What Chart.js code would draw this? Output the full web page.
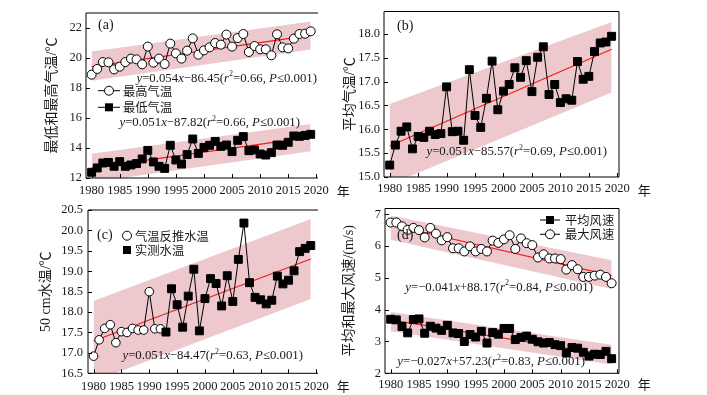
<!DOCTYPE html>
<html>
<head>
<meta charset="utf-8">
<script src="https://cdn.jsdelivr.net/npm/chart.js@4.4.0/dist/chart.umd.min.js"></script>
<style>
body{margin:0;background:#fff;width:707px;height:395px;position:relative;overflow:hidden}
canvas{position:absolute}
</style>
</head>
<body>
<canvas id="ca" width="350" height="197" style="left:0;top:0"></canvas>
<canvas id="cb" width="377" height="197" style="left:330px;top:0"></canvas>
<canvas id="cc" width="350" height="198" style="left:0;top:197px"></canvas>
<canvas id="cd" width="377" height="198" style="left:330px;top:197px"></canvas>
<script>
// values
const years=[1980,1981,1982,1983,1984,1985,1986,1987,1988,1989,
1990,1991,1992,1993,1994,1995,1996,1997,1998,1999,
2000,2001,2002,2003,2004,2005,2006,2007,2008,2009,
2010,2011,2012,2013,2014,2015,2016,2017,2018,2019];
const yearTicks=[1980,1985,1990,1995,2000,2005,2010,2015,2020];

const tMax=[18.89,19.27,19.73,19.71,19.24,19.42,19.73,19.96,19.91,19.58,
20.76,19.69,19.96,19.6,20.96,20.31,19.96,20.49,21.31,20.22,
20.51,20.71,21.0,20.89,21.56,20.76,21.33,21.6,20.4,20.8,
20.58,20.58,20.18,21.58,20.71,20.64,21.29,21.6,21.62,21.78];
const tMin=[12.38,12.67,13.0,13.04,12.78,13.09,12.78,12.87,12.96,13.27,
13.84,13.07,12.78,12.64,14.18,13.2,12.93,13.56,14.6,13.64,
14.04,14.18,14.44,14.11,14.2,13.76,14.51,14.76,13.82,13.87,
13.6,13.53,13.69,14.2,14.18,14.38,14.8,14.78,14.84,14.91];
const tMean=[15.25,15.67,15.96,16.05,15.59,15.85,15.83,15.96,15.89,15.91,
16.89,15.95,15.96,15.77,17.25,16.29,16.04,16.65,17.43,16.41,
16.8,16.94,17.29,17.09,17.44,16.79,17.51,17.73,16.73,16.94,
16.56,16.64,16.61,17.42,17.05,17.11,17.63,17.81,17.83,17.95];
const water=[16.92,17.32,17.6,17.69,17.25,17.52,17.5,17.6,17.56,17.56,
18.5,17.59,17.59,17.51,18.57,18.18,17.63,18.39,19.05,17.54,
18.33,18.82,18.7,18.15,18.89,18.26,19.29,20.18,18.72,18.36,
18.3,18.2,18.29,18.88,18.69,18.78,19.01,19.48,19.56,19.63];
const waterEstLast=1992; // up to this year water temp is back-calculated
const windMax=[6.74,6.74,6.62,6.51,6.57,6.5,6.27,6.57,6.39,6.18,
6.28,5.93,5.93,5.83,5.99,5.83,5.91,5.83,6.17,6.1,
6.21,6.34,5.91,6.24,6.09,6.03,5.64,5.74,5.61,5.61,
5.59,5.26,5.4,5.27,5.03,5.03,5.07,5.1,5.03,4.83];
const windMean=[3.7,3.68,3.47,3.27,3.69,3.71,3.26,3.48,3.42,3.35,
3.51,3.27,3.25,3.0,3.22,3.14,3.32,2.95,3.28,3.23,
3.41,3.41,3.06,3.13,3.17,3.07,2.99,2.95,2.97,2.9,
2.87,2.64,2.81,2.79,2.66,2.54,2.6,2.59,2.69,2.46];

// fitted lines and bands: end points at 1980 and 2019
const ends=[1980,2019];
const fitMax=[19.42,21.51], bandMaxHi=[20.44,22.44], bandMaxLo=[18.49,20.56];
const fitMin=[12.67,14.73], bandMinHi=[13.62,15.6], bandMinLo=[11.72,13.78];
const fitMean=[15.65,17.68], bandMeanHi=[16.53,18.25], bandMeanLo=[14.84,16.77];
const fitWater=[17.29,19.3], bandWaterHi=[18.27,20.28], bandWaterLo=[16.3,18.32];
const fitWMax=[6.67,5.07], bandWMaxHi=[6.96,5.55], bandWMaxLo=[6.2,4.65];
const fitWMean=[3.68,2.56], bandWMeanHi=[3.93,2.9], bandWMeanLo=[3.32,2.28];

const ticksA=[12,14,16,18,20,22];
const ticksB=[15,15.5,16,16.5,17,17.5,18];
const ticksC=[16.5,17,17.5,18,18.5,19,19.5,20,20.5];
const ticksD=[2,3,4,5,6,7];

const SERIF='"Liberation Serif","Times New Roman",serif';
const MIX='"Liberation Serif","Noto Sans CJK SC",serif';
const CJK='"Noto Sans CJK SC",sans-serif';
const PINK='#edc9ce';
const RED='#f01e1e';
const INK='#1a1a1a';

function xy(xs,ys){return xs.map((x,i)=>({x:x,y:ys[i]}));}
function eq(slope,icpt,r2){
  return [['y','i'],['='+slope,'n'],['x','i'],[icpt+'(','n'],['r','i'],['2','s'],['='+r2+', ','n'],['P','i'],['\u22640.001)','n']];
}

function drawEq(ctx,parts,right,cy,size){
  const f={n:size+'px '+SERIF,i:'italic '+size+'px '+SERIF,s:Math.round(size*0.65)+'px '+SERIF};
  let w=0;
  parts.forEach(p=>{ctx.font=f[p[1]];w+=ctx.measureText(p[0]).width;});
  let x=right-w;
  ctx.textAlign='left';ctx.textBaseline='middle';ctx.fillStyle=INK;
  parts.forEach(p=>{
    ctx.font=f[p[1]];
    ctx.fillText(p[0],x,p[1]==='s'?cy-size*0.33:cy);
    x+=ctx.measureText(p[0]).width;
  });
}
function marker(ctx,style,x,y){
  ctx.beginPath();
  if(style==='circle'){ctx.arc(x,y,4.5,0,Math.PI*2);ctx.fillStyle='#fff';ctx.fill();ctx.stroke();}
  else{ctx.fillStyle='#000';ctx.fillRect(x-4,y-4,8,8);}
}

const deco={
  id:'deco',
  afterDraw(chart,args,o){
    const ctx=chart.ctx,a=chart.chartArea,xs=chart.scales.x,ys=chart.scales.y;
    const ox=o.ox,oy=o.oy;
    ctx.save();
    ctx.strokeStyle='#000';ctx.lineWidth=1;
    ctx.beginPath();
    ctx.moveTo(a.left,a.top);ctx.lineTo(a.left,a.bottom);ctx.lineTo(a.right,a.bottom);
    ctx.moveTo(a.left,a.top);ctx.lineTo(a.right,a.top);
    if(o.box){ctx.lineTo(a.right,a.bottom);}
    xs.ticks.forEach(t=>{const p=Math.round(xs.getPixelForValue(t.value))+0.5;ctx.moveTo(p,a.bottom);ctx.lineTo(p,a.bottom-4);});
    ys.ticks.forEach(t=>{const p=Math.round(ys.getPixelForValue(t.value))+0.5;ctx.moveTo(a.left,p);ctx.lineTo(a.left+4,p);});
    ctx.stroke();
    // year unit
    ctx.fillStyle=INK;ctx.font='13px '+CJK;ctx.textAlign='center';ctx.textBaseline='middle';
    ctx.fillText('\u5e74',xs.getPixelForValue(2020)+27,o.yearY-oy);
    // panel label
    ctx.font='14px '+SERIF;ctx.textAlign='left';
    ctx.fillText(o.label[0],o.label[1]-ox,o.label[2]-oy);
    (o.eqs||[]).forEach(e=>drawEq(ctx,e.parts,e.right-ox,e.y-oy,12.8));
    (o.legend||[]).forEach(l=>{
      ctx.strokeStyle='#000';ctx.lineWidth=1;
      if(l.x1!=null){ctx.beginPath();ctx.moveTo(l.x1-ox,l.y-oy);ctx.lineTo(l.x2-ox,l.y-oy);ctx.stroke();}
      marker(ctx,l.style,l.mx-ox,l.y-oy);
      ctx.fillStyle=INK;ctx.font='12.3px '+CJK;ctx.textAlign='left';ctx.textBaseline='middle';
      ctx.fillText(l.text,l.tx-ox,l.y-oy+0.5);
    });
    ctx.restore();
  }
};

function panel(id,c){
  const ds=[];
  c.series.forEach(s=>ds.push(Object.assign({data:xy(years,s.values),borderColor:'#000',borderWidth:1,
    pointBorderColor:'#000',pointBorderWidth:1,order:1},s.look)));
  c.fits.forEach(f=>ds.push({data:xy(ends,f),borderColor:RED,borderWidth:1.2,pointRadius:0,order:2}));
  c.bands.forEach(b=>{
    ds.push({data:xy(ends,b[0]),borderColor:'transparent',borderWidth:0,pointRadius:0,fill:'+1',backgroundColor:PINK,order:3});
    ds.push({data:xy(ends,b[1]),borderColor:'transparent',borderWidth:0,pointRadius:0,fill:false,order:3});
  });
  return new Chart(document.getElementById(id),{
    type:'line',
    data:{datasets:ds},
    options:{
      responsive:false,animation:false,
      layout:{padding:{top:c.pt,right:c.pr,left:0,bottom:0}},
      plugins:{legend:{display:false},tooltip:{enabled:false},deco:c.deco},
      scales:{
        x:{type:'linear',min:1979,max:2020.3,
          grid:{display:false,drawTicks:false},border:{display:false},
          afterBuildTicks:s=>{s.ticks=yearTicks.map(v=>({value:v}));},
          afterFit:s=>{s.height=c.xh;},
          ticks:{font:{family:SERIF,size:12.5},color:INK,padding:c.xpad,maxRotation:0,autoSkip:false,callback:v=>String(v)}},
        y:{type:'linear',min:c.ymin,max:c.ymax,
          grid:{display:false,drawTicks:false},border:{display:false},
          afterBuildTicks:s=>{s.ticks=c.yticks.map(v=>({value:v}));},
          afterFit:s=>{s.width=c.yw;},
          ticks:{font:{family:SERIF,size:12.5},color:INK,padding:c.ypad,autoSkip:false,callback:v=>v.toFixed(c.dec)},
          title:{display:true,text:c.ytitle,color:INK,font:{family:MIX,size:14},padding:{top:c.tpad,bottom:0}}}
      }
    },
    plugins:[deco]
  });
}

const openPt={pointStyle:'circle',pointRadius:4.5,pointBackgroundColor:'#fff'};
const fillPt={pointStyle:'rect',pointRadius:5.6,pointBackgroundColor:'#000'};

panel('ca',{
  series:[{values:tMax,look:openPt},{values:tMin,look:fillPt}],
  fits:[fitMax,fitMin],bands:[[bandMaxHi,bandMaxLo],[bandMinHi,bandMinLo]],
  ymin:12,ymax:23,yticks:ticksA,dec:0,ytitle:'\u6700\u4f4e\u548c\u6700\u9ad8\u6c14\u6e29/\u2103',
  pt:13,pr:32,yw:86,xh:19,xpad:5.5,ypad:4,tpad:44,
  deco:{ox:0,oy:0,box:false,yearY:191.5,label:['(a)',98,25],
    eqs:[{parts:eq('0.054','\u221286.45','0.66'),right:317,y:78.3},{parts:eq('0.051','\u221287.82','0.66'),right:300,y:122.7}],
    legend:[{x1:98,x2:120,mx:109,tx:123,y:90.7,style:'circle',text:'\u6700\u9ad8\u6c14\u6e29'},
            {x1:98,x2:120,mx:109,tx:123,y:107.3,style:'rect',text:'\u6700\u4f4e\u6c14\u6e29'}]}
});

panel('cb',{
  series:[{values:tMean,look:fillPt}],
  fits:[fitMean],bands:[[bandMeanHi,bandMeanLo]],
  ymin:15,ymax:18.47,yticks:ticksB,dec:1,ytitle:'\u5e73\u5747\u6c14\u6e29/\u2103',
  pt:3,pr:88,yw:54,xh:20,xpad:4.5,ypad:4,tpad:12,
  deco:{ox:330,oy:0,box:true,yearY:190,label:['(b)',397,26],
    eqs:[{parts:eq('0.051','\u221285.57','0.69'),right:607,y:151.7}]}
});

panel('cc',{
  series:[{values:water,look:{
    pointStyle:c=>c.raw.x<=waterEstLast?'circle':'rect',
    pointRadius:c=>c.raw.x<=waterEstLast?4.3:5.6,
    pointBackgroundColor:c=>c.raw.x<=waterEstLast?'#fff':'#000'}}],
  fits:[fitWater],bands:[[bandWaterHi,bandWaterLo]],
  ymin:16.5,ymax:20.5,yticks:ticksC,dec:1,ytitle:'50 cm\u6c34\u6e29/\u2103',
  pt:13,pr:32,yw:88,xh:21.7,xpad:6,ypad:5,tpad:38,
  deco:{ox:0,oy:197,box:false,yearY:386.5,label:['(c)',97,235.5],
    eqs:[{parts:eq('0.051','\u221284.47','0.63'),right:303,y:356}],
    legend:[{mx:127,tx:135,y:235.7,style:'circle',text:'\u6c14\u6e29\u53cd\u63a8\u6c34\u6e29'},
            {mx:127,tx:135,y:250,style:'rect',text:'\u5b9e\u6d4b\u6c34\u6e29'}]}
});

panel('cd',{
  series:[{values:windMax,look:openPt},{values:windMean,look:fillPt}],
  fits:[fitWMax,fitWMean],bands:[[bandWMaxHi,bandWMaxLo],[bandWMeanHi,bandWMeanLo]],
  ymin:2,ymax:7.18,yticks:ticksD,dec:0,ytitle:'\u5e73\u5747\u548c\u6700\u5927\u98ce\u901f/(m/s)',
  pt:5.3,pr:88,yw:55,xh:21.7,xpad:4,ypad:4,tpad:11,
  deco:{ox:330,oy:197,box:true,yearY:384,label:['(d)',397,235.7],
    eqs:[{parts:eq('\u22120.041','+88.17','0.84'),right:593,y:287.3},{parts:eq('\u22120.027','+57.23','0.83'),right:585,y:361.7}],
    legend:[{x1:540,x2:560,mx:550,tx:565,y:220,style:'rect',text:'\u5e73\u5747\u98ce\u901f'},
            {x1:540,x2:560,mx:550,tx:565,y:234.3,style:'circle',text:'\u6700\u5927\u98ce\u901f'}]}
});
</script>
</body>
</html>
